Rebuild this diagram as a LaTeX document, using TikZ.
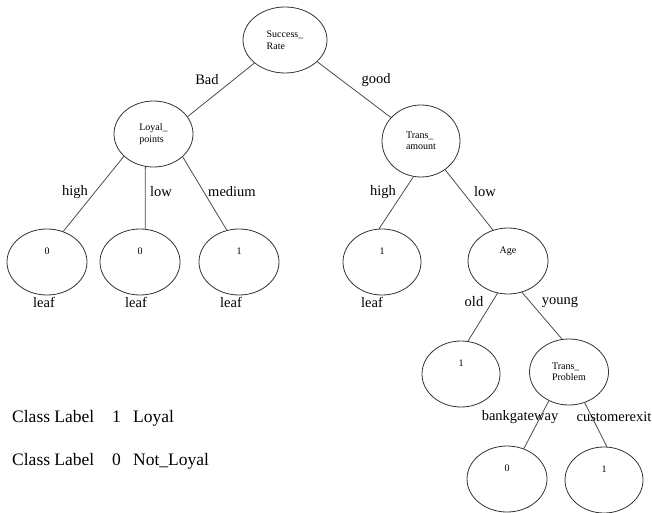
\documentclass[tikz,border=0pt]{standalone}
\usepackage{fontspec}
\setmainfont{Liberation Serif}
\usetikzlibrary{shapes.geometric}

\tikzset{
  oval/.style={draw=black!80, line width=0.8pt, ellipse, minimum width=80pt, minimum height=66pt, inner sep=0pt, align=left, font=\fontsize{10}{11.5}\selectfont},
  leafval/.style={oval, text depth=22pt},
  branch/.style={draw=black!70, line width=0.8pt},
  lbl/.style={inner sep=0pt, font=\fontsize{14.5}{16}\selectfont},
  legend/.style={inner sep=0pt, anchor=base west, font=\fontsize{17.5}{20}\selectfont}
}

\begin{document}
\begin{tikzpicture}[x=1pt,y=-1pt]
                \useasboundingbox (0,0) rectangle (652,513);
                % splitting attributes
                \node[oval, minimum width=84pt] (sr) at (285,40) {Success\_\\Rate};
                \node[oval, minimum width=79pt] (lp) at (153.5,134) {Loyal\_\\points};
                \node[oval, minimum width=78pt, minimum height=72pt] (ta) at (421,141) {Trans\_\\amount};
                \node[leafval] (age) at (508,261) {Age};
                \node[oval, minimum width=79pt] (tp) at (569,372) {Trans\_\\Problem};
                % class values
                \node[leafval] (lpa) at (47,262) {0};
                \node[leafval] (lpb) at (140,262) {0};
                \node[leafval] (lpc) at (239,262) {1};
                \node[leafval, minimum width=78pt] (tah) at (382,262) {1};
                \node[leafval, minimum width=78pt] (old) at (461,374) {1};
                \node[leafval] (bg) at (507,479) {0};
                \node[leafval, minimum width=78pt] (ce) at (604,480) {1};
                % branches
                \draw[branch] (sr.217) -- (lp.27);
                \draw[branch] (sr.326) -- (ta.142);
                \draw[branch] (lp.217) -- (lpa.62);
                \draw[branch] (lp.256) -- (lpb.81);
                \draw[branch] (lp.322) -- (lpc.111);
                \draw[branch] (ta.258) -- (tah.95);
                \draw[branch] (ta.310) -- (age.116);
                \draw[branch] (age.252) -- (old.78);
                \draw[branch] (age.294) -- (tp.102);
                \draw[branch] (tp.235) -- (bg.61);
                \draw[branch] (tp.297) -- (ce.85);
                % branch labels
                \node[lbl] (bad) at (207,80) {Bad};
                \node[lbl] (good) at (376,80) {good};
                \node[lbl] (lphigh) at (75,192) {high};
                \node[lbl] (lplow) at (161,192) {low};
                \node[lbl] (lpmed) at (232,192) {medium};
                \node[lbl] (tahigh) at (383,192) {high};
                \node[lbl] (talow) at (485,192) {low};
                \node[lbl] (ageold) at (474,302) {old};
                \node[lbl] (ageyoung) at (560,302) {young};
                \node[lbl] (tpbank) at (520,417) {bankgateway};
                \node[lbl] (tpexit) at (614,417) {customerexit};
                \node[lbl] (leafa) at (44,302) {leaf};
                \node[lbl] (leafb) at (136,302) {leaf};
                \node[lbl] (leafc) at (231,302) {leaf};
                \node[lbl] (leafd) at (372,302) {leaf};
                % legend
                \node[legend] (cla) at (12,422) {Class Label};
                \node[legend] (cla1) at (112,422) {1};
                \node[legend] (cla2) at (133,422) {Loyal};
                \node[legend] (clb) at (12,465) {Class Label};
                \node[legend] (clb1) at (112,465) {0};
                \node[legend] (clb2) at (133,465) {Not\_Loyal};
            \end{tikzpicture}
\end{document}
